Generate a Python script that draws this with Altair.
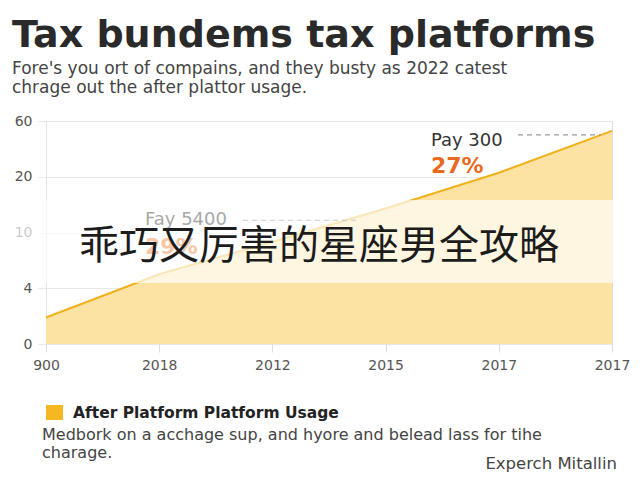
import altair as alt
import pandas as pd

# ---- data ----
x_labels = ["900", "2018", "2012", "2015", "2017", "2017"]
x_index = [0, 1, 2, 3, 4, 5]
usage = [1.9, 5.5, 9.0, 14.3, 22.9, 52.9]
y_ticks = [0, 4, 10, 20, 60]

title_text = "Tax bundems tax platforms"
subtitle_lines = ["Fore's you ort of compains, and they busty as 2022 catest",
                  "chrage out the after plattor usage."]
legend_label = "After Platform Platform Usage"
note_lines = ["Medbork on a acchage sup, and hyore and belead lass for tihe",
              "charage."]
signature = "Experch Mitallin"
watermark = "乖巧又厉害的星座男全攻略"

ann_main = {"x": 3.40, "pay": 45.9, "pct": 27.4, "t1": "Pay 300", "t2": "27%",
            "dx0": 4.17, "dx1": 4.9, "dy": 50.0}
ann_faded = {"x": 0.875, "pay": 12.2, "pct": 8.4, "t1": "Fay 5400", "t2": "29%",
             "dx0": 1.74, "dx1": 2.77, "dy": 12.2}

W, H = 566, 223
FONT = "DejaVu Sans"

df = pd.DataFrame({"idx": x_index, "usage": usage})

label_expr = "[" + ",".join(f"'{l}'" for l in x_labels) + "][round(datum.value)]"

n = len(y_ticks) - 1
y_range = [H - H * i / n for i in range(len(y_ticks))]

xenc = alt.X("idx:Q", scale=alt.Scale(domain=[0, 5], nice=False, zero=False),
             axis=alt.Axis(values=x_index, labelExpr=label_expr, grid=False,
                           domain=False, ticks=True, tickSize=8, tickColor="#dddddd",
                           labelColor="#555555", labelFontSize=14, labelFont=FONT,
                           labelPadding=6, labelFlush=False, labelBound=False,
                           title=None))
yscale = alt.Scale(domain=y_ticks, range=y_range, nice=False, zero=False)
yenc = alt.Y("usage:Q", scale=yscale,
             axis=alt.Axis(values=y_ticks, grid=True, gridColor="#e8e8e8",
                           tickColor="#e8e8e8", tickSize=8, domainColor="#e3e3e3",
                           labelColor="#555555", labelFontSize=14, labelFont=FONT,
                           labelPadding=6, labelFlush=False, title=None))

base = alt.Chart(df)
area = base.mark_area(color="#FCE2A3", opacity=1).encode(x=xenc, y=yenc)
line = base.mark_line(color="#F0B11D", strokeWidth=2).encode(x="idx:Q", y="usage:Q")


def ann_layers(a, txt_color, pct_color, dash_color):
    d = pd.DataFrame([a])
    c = alt.Chart(d)
    rule = c.mark_rule(color=dash_color, strokeDash=[5, 4], strokeWidth=1.2).encode(
        x="dx0:Q", x2="dx1:Q", y="dy:Q")
    t1 = c.mark_text(align="left", baseline="middle", font=FONT, fontSize=18,
                     color=txt_color).encode(x="x:Q", y="pay:Q", text="t1:N")
    t2 = c.mark_text(align="left", baseline="middle", font=FONT, fontSize=22,
                     fontWeight="bold", color=pct_color).encode(x="x:Q", y="pct:Q", text="t2:N")
    return [rule, t1, t2]


main_ann = ann_layers(ann_main, "#333333", "#E8691F", "#999999")
faded_ann = ann_layers(ann_faded, "#a8a8a8", "#F6C6A6", "#c8c8c8")

one = pd.DataFrame({"k": [0]})

overlay = alt.Chart(one).mark_rect(color="white", opacity=0.68).encode(
    x=alt.value(-38), x2=alt.value(567), y=alt.value(79), y2=alt.value(162))


def text_at(t, x, y, size, color="#333333", weight="normal", align="left",
            baseline="middle", font=FONT):
    return alt.Chart(pd.DataFrame({"t": [t]})).mark_text(
        align=align, baseline=baseline, font=font, fontSize=size,
        fontWeight=weight, color=color).encode(
        x=alt.value(x), y=alt.value(y), text="t:N")


title = text_at(title_text, -34, -74, 38, "#2a2a2a", "bold", baseline="alphabetic")
sub1 = text_at(subtitle_lines[0], -34, -47, 17, "#444444", baseline="alphabetic")
sub2 = text_at(subtitle_lines[1], -34, -28, 17, "#444444", baseline="alphabetic")
wm = text_at(watermark, 273, 126, 40, "#1c1c1c", align="center",
             font="Noto Sans CJK SC")

legend_sq = alt.Chart(one).mark_rect(color="#F5B820").encode(
    x=alt.value(0), x2=alt.value(17), y=alt.value(284), y2=alt.value(299))
legend_txt = text_at(legend_label, 27, 291.5, 15.5, "#222222", "bold")
note1 = text_at(note_lines[0], -4, 314, 16, "#444444")
note2 = text_at(note_lines[1], -4, 332, 16, "#444444")
sig = text_at(signature, 571, 343, 16.5, "#444444", align="right")

chart = alt.layer(
    area, line, *main_ann, overlay, *faded_ann, wm,
    title, sub1, sub2, legend_sq, legend_txt, note1, note2, sig
).properties(
    width=W, height=H,
    padding={"left": 38, "top": 113, "right": 20, "bottom": 128},
    autosize="none",
).configure_view(stroke=None).configure(background="white")

chart.save("out.html", embed_options={"renderer": "svg", "actions": False})
